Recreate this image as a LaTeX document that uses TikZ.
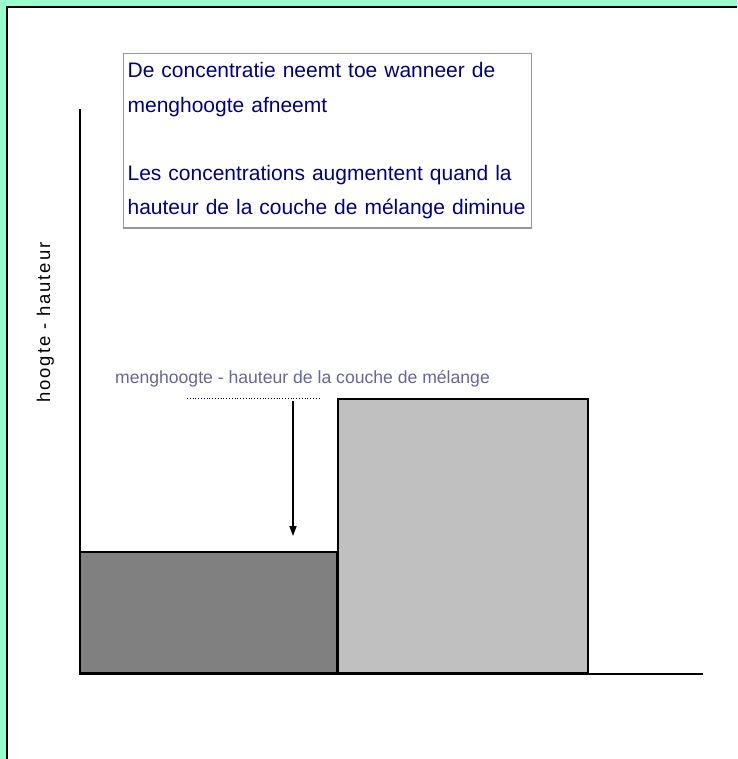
\documentclass[tikz,border=0pt]{standalone}
\usepackage{fontspec}
\setmainfont{Liberation Sans}
\usetikzlibrary{arrows.meta,positioning}
\definecolor{mintbg}{RGB}{153,255,204}
\definecolor{notenavy}{RGB}{0,0,128}
\definecolor{notegray}{RGB}{150,150,150}
\definecolor{labelblue}{RGB}{102,102,153}
\definecolor{lowbar}{RGB}{128,128,128}
\definecolor{highbar}{RGB}{192,192,192}
\tikzset{
  axis/.style={line width=1.5pt, draw=black},
  bar/.style={
    rectangle,
    draw=black,
    line width=1.8pt,
    inner sep=0pt,
    outer sep=0pt,
    anchor=south west
  },
  note/.style={
    rectangle,
    draw=notegray,
    line width=1.2pt,
    fill=white,
    text=notenavy,
    align=left,
    anchor=north west,
    inner xsep=4pt,
    inner ysep=9pt,
    text width=400pt,
    font=\fontsize{21}{34.2}\selectfont
  },
  level/.style={dotted, line width=0.8pt},
  drop/.style={-{Triangle[length=10pt,width=7pt]}, line width=1.5pt}
}

\begin{document}
\begin{tikzpicture}[x=1pt, y=-1pt]
    \useasboundingbox (0,0) rectangle (737,759);
    % slide background and frame
    \fill[mintbg] (0,0) rectangle (737,759);
    \fill[white] (7,7) rectangle (737,759);
    \draw[line width=2pt] (7.3,759) -- (7.3,7.3) -- (737,7.3);

    % bars
    \node[bar, fill=lowbar, minimum width=257pt, minimum height=121pt] (low) at (80,673) {};
    \node[bar, fill=highbar, minimum width=250pt, minimum height=274pt] (high) at (338,673) {};

    % axes
    \coordinate (origin) at (80,674);
    \coordinate (ytop) at (80,109);
    \coordinate (xend) at (703,674);
    \draw[axis] (ytop) -- (origin) -- (xend);
    \node[rotate=90, anchor=base, font=\fontsize{18.5}{20}\selectfont\addfontfeature{LetterSpace=10}] (ylabel) at (50,322.5) {hoogte - hauteur};

    % mixing height marker
    \node[anchor=base, text=labelblue, font=\fontsize{17.6}{20}\selectfont] (mixlabel) at (302.5,383) {menghoogte - hauteur de la couche de mélange};
    \coordinate (lvlL) at (187,398.5);
    \coordinate (lvlR) at (321,398.5);
    \coordinate (lvlA) at (293,401);
    \coordinate (tip) at (293,536);
    \draw[level] (lvlL) -- (lvlR);
    \draw[drop] (lvlA) -- (tip);

    % explanation
    \node[note] (note) at (123,53) {De concentratie neemt toe wanneer de\\menghoogte afneemt\\[34.2pt]Les concentrations augmentent quand la\\hauteur de la couche de mélange diminue};
\end{tikzpicture}
\end{document}
